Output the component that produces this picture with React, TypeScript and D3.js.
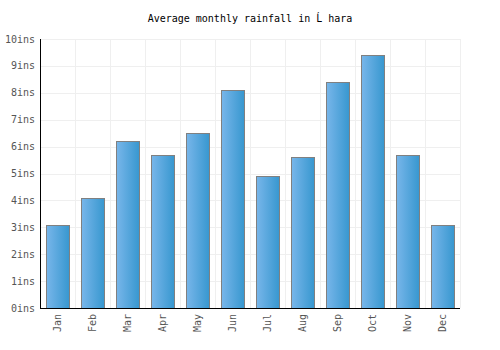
import * as d3 from 'd3'

const months = ['Jan', 'Feb', 'Mar', 'Apr', 'May', 'Jun', 'Jul', 'Aug', 'Sep', 'Oct', 'Nov', 'Dec']
const rainfall = [3.1, 4.1, 6.2, 5.7, 6.5, 8.1, 4.9, 5.6, 8.4, 9.4, 5.7, 3.1]
const yTicks = [0, 1, 2, 3, 4, 5, 6, 7, 8, 9, 10]

const width = 500
const height = 350
const margin = { top: 39, right: 40, bottom: 42, left: 40 }
const font = '"DejaVu Sans Mono", monospace'

export default function App() {
  const innerW = width - margin.left - margin.right
  const innerH = height - margin.top - margin.bottom

  const x = d3.scaleBand().domain(months).range([0, innerW]).paddingInner(0.34).paddingOuter(0.17)
  const y = d3.scaleLinear().domain([0, 10]).range([innerH, 0])
  const step = x.step()

  return (
    <svg width={width} height={height} style={{ position: 'absolute', left: 0, top: 0 }}>
      <defs>
        <linearGradient id="barGrad" x1="0" x2="1" y1="0" y2="0">
          <stop offset="0%" stopColor="#78b6ea" />
          <stop offset="100%" stopColor="#3797cf" />
        </linearGradient>
      </defs>
      <rect width={width} height={height} fill="#fff" />
      <text x={width / 2} y={22} textAnchor="middle" fontFamily={font} fontSize={10} fill="#000">
        Average monthly rainfall in Ĺ hara
      </text>
      <g transform={`translate(${margin.left},${margin.top})`}>
        {yTicks.map(t => (
          <line key={'gy' + t} x1={0} x2={innerW} y1={Math.round(y(t)) + 0.5} y2={Math.round(y(t)) + 0.5} stroke="#efefef" />
        ))}
        {months.map((m, i) => (
          <line key={'gx' + m} x1={Math.round(step * (i + 1)) + 0.5} x2={Math.round(step * (i + 1)) + 0.5} y1={0} y2={innerH} stroke="#efefef" />
        ))}
        {months.map((m, i) => (
          <rect
            key={m}
            x={Math.round(x(m)!) + 0.5}
            y={Math.round(y(rainfall[i])) + 0.5}
            width={Math.round(x.bandwidth())}
            height={Math.round(innerH - y(rainfall[i]))}
            fill="url(#barGrad)"
            stroke="#808080"
            strokeWidth={1}
          />
        ))}
        <line x1={0.5} x2={0.5} y1={0} y2={innerH} stroke="#000" />
        <line x1={0} x2={innerW} y1={innerH + 0.5} y2={innerH + 0.5} stroke="#000" />
        {yTicks.map(t => (
          <text key={'ty' + t} x={-5} y={y(t)} dy="0.35em" textAnchor="end" fontFamily={font} fontSize={10} fill="#555">
            {t}ins
          </text>
        ))}
        {months.map(m => (
          <text
            key={'tx' + m}
            transform={`translate(${x(m)! + x.bandwidth() / 2},${innerH + 6}) rotate(-90)`}
            dy="0.35em"
            textAnchor="end"
            fontFamily={font}
            fontSize={10}
            fill="#555"
          >
            {m}
          </text>
        ))}
      </g>
    </svg>
  )
}
